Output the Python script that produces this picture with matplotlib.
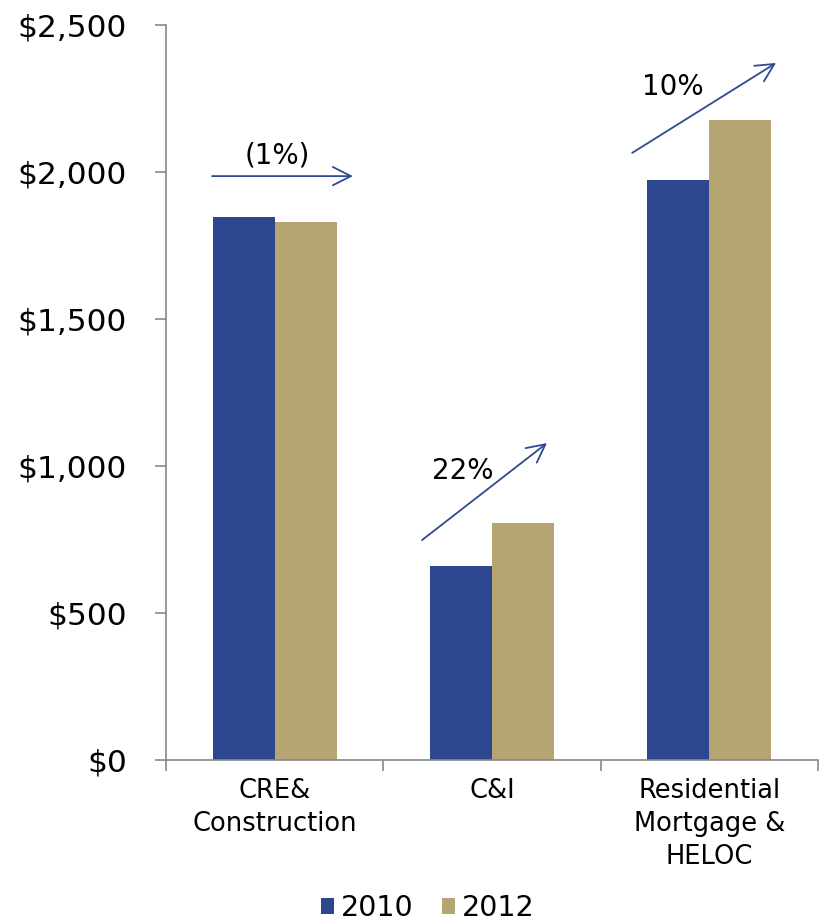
import matplotlib
matplotlib.use("Agg")
import matplotlib.pyplot as plt
from matplotlib.patches import Patch
import numpy as np

categories = ["CRE&\nConstruction", "C&I", "Residential\nMortgage &\nHELOC"]
series_names = ["2010", "2012"]
values_2010 = [1848, 660, 1973]
values_2012 = [1829, 807, 2177]
yticks = [0, 500, 1000, 1500, 2000, 2500]
ytick_labels = ["$0", "$500", "$1,000", "$1,500", "$2,000", "$2,500"]
change_labels = ["(1%)", "22%", "10%"]

c2010 = "#2C4690"
c2012 = "#B5A572"
arrow_col = "#2E4A92"

plt.rcParams['font.family'] = ['DejaVu Sans']

fig = plt.figure(figsize=(8.21, 9.22), dpi=100)
ax = fig.add_axes([166/821, 1-760/922, 652/821, 735/922])

x = np.arange(len(categories))
w = 0.286
ax.bar(x - w/2, values_2010, width=w, color=c2010, label=series_names[0])
ax.bar(x + w/2, values_2012, width=w, color=c2012, label=series_names[1])

ax.set_xlim(-0.5, 2.5)
ax.set_ylim(0, 2500)
ax.set_yticks(yticks)
ax.set_yticklabels(ytick_labels, fontsize=22.5)
ax.set_xticks(x)
ax.set_xticklabels(categories, fontsize=18.5, linespacing=1.35)
ax.set_xticks([-0.5, 0.5, 1.5, 2.5], minor=True)
ax.tick_params(axis='x', which='major', length=0, pad=13)
ax.tick_params(axis='x', which='minor', length=8, color='#888888', width=1.2)
ax.tick_params(axis='y', length=8, color='#888888', width=1.2, pad=20)

for s in ['top', 'right']:
    ax.spines[s].set_visible(False)
for s in ['left', 'bottom']:
    ax.spines[s].set_color('#888888')
    ax.spines[s].set_linewidth(1.2)

# change annotations (arrow start, arrow end, text position)
arrows = [((-0.288, 1986), (0.36, 1986), (0.011, 2055)),
          ((0.678, 748), (1.253, 1078), (0.867, 982)),
          ((1.645, 2065), (2.307, 2371), (1.833, 2288))]
for lab, (s, e, t) in zip(change_labels, arrows):
    ax.annotate("", xy=e, xytext=s,
                arrowprops=dict(arrowstyle='->,head_length=0.65,head_width=0.33',
                                color=arrow_col, lw=1.3, shrinkA=0, shrinkB=0,
                                mutation_scale=20))
    ax.text(t[0], t[1], lab, fontsize=20, ha='center', va='center')

handles = [Patch(facecolor=c2010), Patch(facecolor=c2012)]
fig.legend(handles, series_names, loc='center', bbox_to_anchor=(428/821, 1-908/922),
           ncol=2, frameon=False, fontsize=20.5, handlelength=0.45, handleheight=0.45,
           handletextpad=0.25, columnspacing=1.0)

fig.savefig("out.png", dpi=100)
